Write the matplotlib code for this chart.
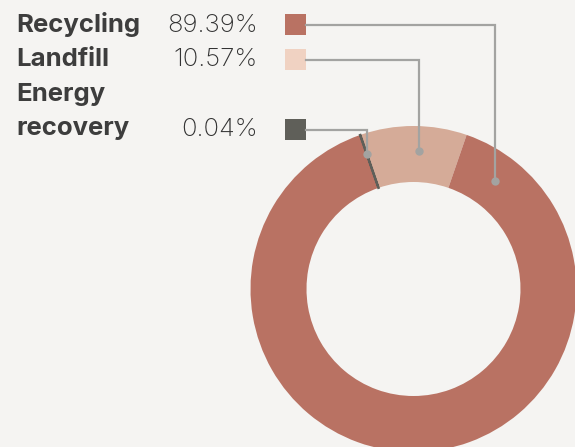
import numpy as np
import matplotlib.pyplot as plt

# data
labels = ["Recycling", "Landfill", "Energy\nrecovery"]
shares = [89.39, 10.57, 0.04]
colors = ["#b97263", "#d5ab98", "#5f5f59"]
swatch_colors = ["#b97263", "#f0d2c2", "#5f5f59"]

W, H = 575, 447
bg = "#f5f4f2"

fig = plt.figure(figsize=(W / 100, H / 100), dpi=100, facecolor=bg)
ax = fig.add_axes([0, 0, 1, 1])
ax.set_facecolor(bg)


def py(y):
    # pixel row (top-down) -> data y
    return H - y


# donut: landfill centered at the top, energy just left of it
cx, cy = 413.5, py(289)
R, ring = 163, 56
order = [1, 2, 0]
start = 90 - shares[1] * 3.6 / 2
wedges, _ = ax.pie([shares[i] for i in order], colors=[colors[i] for i in order],
                   startangle=start, counterclock=True, center=(cx, cy), radius=R,
                   wedgeprops=dict(width=ring, linewidth=0))
wedges[1].set_edgecolor(colors[2])
wedges[1].set_linewidth(1.6)
wedges[1].set_zorder(3)

# wedge angles (degrees, math convention)
mids = {}
a = start
for i in order:
    mids[i] = a + shares[i] * 3.6 / 2
    a += shares[i] * 3.6

# annotation anchors on the ring
anchor_ang = [53, 87.6, mids[2]]
anchor_r = [135, 138, 143]

row_y = [24.5, 59.5, 129.5]
sq = 21
sq_x = 285
line_c = "#a3a3a1"
font = ["Inter", "DejaVu Sans"]
fs = 18.5
txt_c = "#3d3d3d"

text_base = [32, 66.5, 135.5]
for i in range(3):
    yc = py(row_y[i])
    ax.add_patch(plt.Rectangle((sq_x, yc - sq / 2), sq, sq, color=swatch_colors[i], lw=0))
    ang = np.deg2rad(anchor_ang[i])
    dx = cx + anchor_r[i] * np.cos(ang)
    dy = cy + anchor_r[i] * np.sin(ang)
    ax.plot([sq_x + sq, dx, dx], [yc, yc, dy], color=line_c, lw=1.6, zorder=4,
            solid_joinstyle="miter")
    ax.plot(dx, dy, "o", color=line_c, ms=6, zorder=5, mec="none")
    ax.text(258, py(text_base[i]), f"{shares[i]:.2f}%", ha="right", va="baseline",
            fontsize=fs, family=font, fontweight="light", color="#333333")

ax.text(16, py(32), labels[0], ha="left", va="baseline", fontsize=fs,
        family=font, fontweight="bold", color=txt_c)
ax.text(16, py(66.5), labels[1], ha="left", va="baseline", fontsize=fs,
        family=font, fontweight="bold", color=txt_c)
ax.text(16, py(101.5), "Energy", ha="left", va="baseline", fontsize=fs,
        family=font, fontweight="bold", color=txt_c)
ax.text(16, py(135.5), "recovery", ha="left", va="baseline", fontsize=fs,
        family=font, fontweight="bold", color=txt_c)

ax.set_xlim(0, W)
ax.set_ylim(0, H)
ax.set_aspect("equal")
ax.axis("off")

fig.savefig("out.png", dpi=100, facecolor=bg)
